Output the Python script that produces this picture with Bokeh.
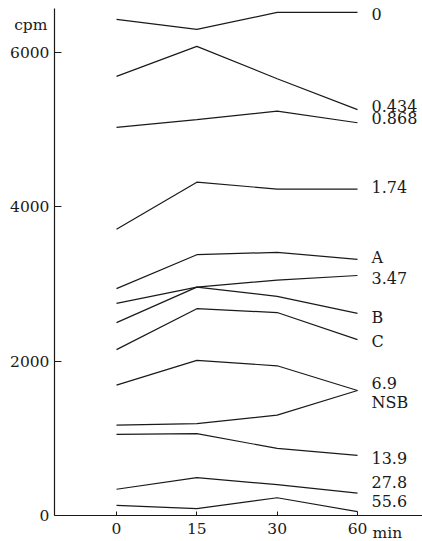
from bokeh.plotting import figure
from bokeh.models import Range1d, FixedTicker, ColumnDataSource
from bokeh.core.properties import value
from bokeh.embed import file_html
from bokeh.resources import INLINE

# sampling times (min), drawn at equal spacing
times = ["0", "15", "30", "60"]

# bound radioactivity (cpm) per series at each time point
series_names = ["0", "0.434", "0.868", "1.74", "A", "3.47", "B", "C",
                "6.9", "NSB", "13.9", "27.8", "55.6"]
s_0 = [6430, 6300, 6520, 6520]
s_0434 = [5690, 6080, 5660, 5260]
s_0868 = [5030, 5130, 5240, 5090]
s_174 = [3710, 4320, 4230, 4230]
s_A = [2940, 3380, 3410, 3320]
s_347 = [2750, 2960, 3050, 3110]
s_B = [2500, 2960, 2840, 2620]
s_C = [2150, 2680, 2630, 2280]
s_69 = [1690, 2010, 1940, 1620]
s_NSB = [1170, 1190, 1300, 1620]
s_139 = [1050, 1060, 870, 780]
s_278 = [340, 490, 400, 290]
s_556 = [130, 90, 230, 50]
series_values = [s_0, s_0434, s_0868, s_174, s_A, s_347, s_B, s_C,
                 s_69, s_NSB, s_139, s_278, s_556]

y_ticks = [0, 2000, 4000, 6000]

# vertical nudges (px, positive = down) that keep end labels apart
label_nudge = [2, -4, -5, -2, -2, 2, 4, 2, -7, 12, 3, -11, -11]

FONT = "DejaVu Serif"
INK = "#1a1a1a"

# axis extents in data units
X_LEFT, X_RIGHT = -0.772, 3.809
Y_TOP = 6570

# the frame fills the whole canvas; the axes are pinned inside it
p = figure(width=422, height=541,
           x_range=Range1d(-1.444, X_RIGHT), y_range=Range1d(-337, 6674),
           output_backend="svg", toolbar_location=None,
           min_border=0)
p.outline_line_color = None
p.xgrid.visible = False
p.ygrid.visible = False
p.background_fill_color = "white"
p.border_fill_color = "white"

xs = list(range(len(times)))
for vals in series_values:
    p.line(xs, vals, line_color=INK, line_width=1.2)

# series labels at the right end of each line
src = ColumnDataSource(dict(
    x=[xs[-1]] * len(series_names),
    y=[v[-1] for v in series_values],
    t=series_names,
    dy=label_nudge,
))
p.text(x="x", y="y", text="t", source=src, x_offset=14, y_offset="dy",
       text_font=value(FONT), text_font_size="16px", text_color=INK,
       text_align="left", text_baseline="middle")

# axes
p.xaxis.ticker = FixedTicker(ticks=xs)
p.xaxis.major_label_overrides = {i: t for i, t in enumerate(times)}
p.xaxis.fixed_location = 0
p.xaxis.bounds = (X_LEFT, X_RIGHT)
p.yaxis.ticker = FixedTicker(ticks=y_ticks)
p.yaxis.fixed_location = X_LEFT
p.yaxis.bounds = (0, Y_TOP)
for ax in (p.xaxis[0], p.yaxis[0]):
    ax.axis_line_color = INK
    ax.axis_line_width = 1.2
    ax.major_tick_line_color = INK
    ax.minor_tick_line_color = None
    ax.major_tick_out = 0
    ax.major_label_text_font = FONT
    ax.major_label_text_font_size = "15.5px"
    ax.major_label_text_color = INK
p.yaxis.major_tick_in = 7
p.yaxis.major_label_standoff = 5
p.xaxis.major_tick_in = 4
p.xaxis.major_label_standoff = 8

# unit captions beside the axes
p.text(x=[X_LEFT], y=[6360], text=["cpm"], x_offset=-7,
       text_font=value(FONT), text_font_size="15.5px", text_color=INK,
       text_align="right", text_baseline="middle")
p.text(x=[xs[-1]], y=[0], text=["min"], x_offset=15, y_offset=18,
       text_font=value(FONT), text_font_size="15.5px", text_color=INK,
       text_align="left", text_baseline="middle")

open("out.html", "w").write(file_html(p, INLINE))
